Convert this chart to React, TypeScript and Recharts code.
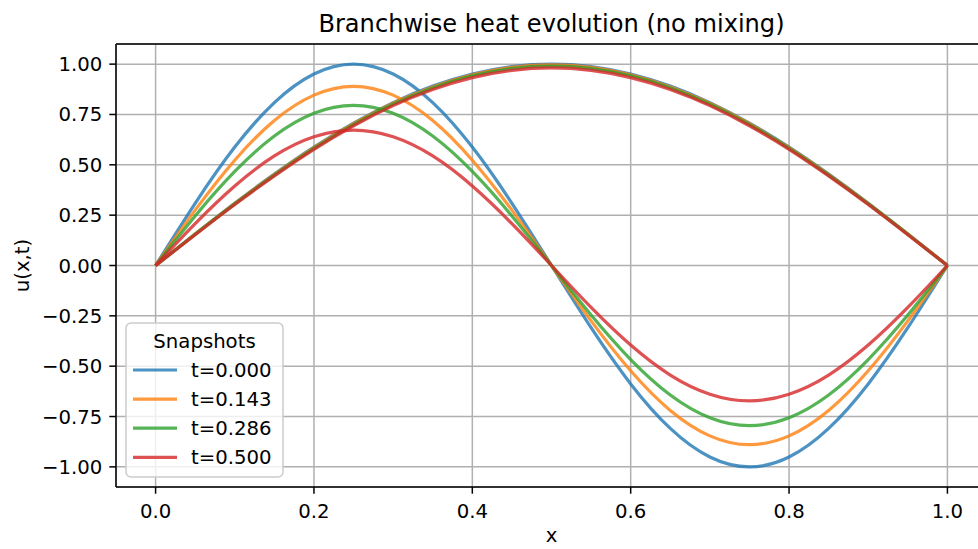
import { LineChart, Line, XAxis, YAxis, CartesianGrid, ReferenceLine } from "recharts";

// sample positions along the branch (x)
const xs = [
  0, 0.05, 0.1, 0.15, 0.2, 0.25, 0.3, 0.35, 0.4, 0.45, 0.5,
  0.55, 0.6, 0.65, 0.7, 0.75, 0.8, 0.85, 0.9, 0.95, 1,
];

// fast branch (two humps), one list per snapshot
const fast0 = [0, 0.309, 0.588, 0.809, 0.951, 1.0, 0.951, 0.809, 0.588, 0.309, 0, -0.309, -0.588, -0.809, -0.951, -1.0, -0.951, -0.809, -0.588, -0.309, 0];
const fast1 = [0, 0.275, 0.523, 0.72, 0.846, 0.89, 0.846, 0.72, 0.523, 0.275, 0, -0.275, -0.523, -0.72, -0.846, -0.89, -0.846, -0.72, -0.523, -0.275, 0];
const fast2 = [0, 0.246, 0.467, 0.643, 0.756, 0.795, 0.756, 0.643, 0.467, 0.246, 0, -0.246, -0.467, -0.643, -0.756, -0.795, -0.756, -0.643, -0.467, -0.246, 0];
const fast3 = [0, 0.208, 0.395, 0.544, 0.639, 0.672, 0.639, 0.544, 0.395, 0.208, 0, -0.208, -0.395, -0.544, -0.639, -0.672, -0.639, -0.544, -0.395, -0.208, 0];

// slow branch (single hump)
const slow0 = [0, 0.156, 0.309, 0.454, 0.588, 0.707, 0.809, 0.891, 0.951, 0.988, 1.0, 0.988, 0.951, 0.891, 0.809, 0.707, 0.588, 0.454, 0.309, 0.156, 0];
const slow1 = [0, 0.156, 0.308, 0.452, 0.585, 0.704, 0.806, 0.887, 0.947, 0.984, 0.996, 0.984, 0.947, 0.887, 0.806, 0.704, 0.585, 0.452, 0.308, 0.156, 0];
const slow2 = [0, 0.155, 0.306, 0.449, 0.582, 0.7, 0.801, 0.882, 0.942, 0.978, 0.99, 0.978, 0.942, 0.882, 0.801, 0.7, 0.582, 0.449, 0.306, 0.155, 0];
const slow3 = [0, 0.153, 0.303, 0.445, 0.577, 0.694, 0.794, 0.874, 0.933, 0.969, 0.981, 0.969, 0.933, 0.874, 0.794, 0.694, 0.577, 0.445, 0.303, 0.153, 0];

const snapshotLabels = ["t=0.000", "t=0.143", "t=0.286", "t=0.500"];
const colors = ["#1f77b4", "#ff7f0e", "#2ca02c", "#d62728"];

const xTicks = [0, 0.2, 0.4, 0.6, 0.8, 1.0];
const yTicks = [-1, -0.75, -0.5, -0.25, 0, 0.25, 0.5, 0.75, 1];

const fastSets = [fast0, fast1, fast2, fast3];
const slowSets = [slow0, slow1, slow2, slow3];

const data = xs.map((x, i) => {
  const row: Record<string, number> = { x };
  fastSets.forEach((s, k) => (row[`f${k}`] = s[i]));
  slowSets.forEach((s, k) => (row[`s${k}`] = s[i]));
  return row;
});

const FONT = "DejaVu Sans, sans-serif";
const minus = (s: string) => s.replace("-", "\u2212");

function XTick({ x, y, payload }: any) {
  return (
    <text x={x} y={y} dy={24} textAnchor="middle" fontSize={19.7} fontFamily={FONT} fill="#000">
      {minus(payload.value.toFixed(1))}
    </text>
  );
}

function YTick({ x, y, payload }: any) {
  return (
    <text x={x} y={y} dx={-7} dy={7} textAnchor="end" fontSize={19.7} fontFamily={FONT} fill="#000">
      {minus(payload.value.toFixed(2))}
    </text>
  );
}

export default function App() {
  return (
    <div style={{ position: "absolute", left: 0, top: 0, width: 978, height: 549, overflow: "hidden", background: "#fff" }}>
      <LineChart width={988} height={549} data={data} margin={{ top: 44, right: 1, left: 0, bottom: 12 }}>
        <CartesianGrid stroke="#b0b0b0" strokeWidth={1.5} />
        <XAxis
          dataKey="x"
          type="number"
          domain={[-0.05, 1.05]}
          ticks={xTicks}
          allowDataOverflow
          height={50}
          tickSize={6.7}
          tickMargin={0}
          tick={<XTick />}
          axisLine={{ stroke: "#000", strokeWidth: 1.5 }}
          tickLine={{ stroke: "#000", strokeWidth: 1.5 }}
        />
        <YAxis
          type="number"
          domain={[-1.1, 1.1]}
          ticks={yTicks}
          allowDataOverflow
          width={116}
          tickSize={6.7}
          tickMargin={0}
          tick={<YTick />}
          axisLine={{ stroke: "#000", strokeWidth: 1.5 }}
          tickLine={{ stroke: "#000", strokeWidth: 1.5 }}
        />
        <ReferenceLine y={1.1} stroke="#000" strokeWidth={1.5} />
        {colors.map((c, k) => [
          <Line
            key={`f${k}`}
            dataKey={`f${k}`}
            type="natural"
            stroke={c}
            strokeOpacity={0.8}
            strokeWidth={3.2}
            dot={false}
            activeDot={false}
            isAnimationActive={false}
          />,
          <Line
            key={`s${k}`}
            dataKey={`s${k}`}
            type="natural"
            stroke={c}
            strokeOpacity={0.8}
            strokeWidth={3.2}
            dot={false}
            activeDot={false}
            isAnimationActive={false}
          />,
        ])}
      </LineChart>

      <svg width={978} height={549} style={{ position: "absolute", left: 0, top: 0, pointerEvents: "none" }}>
        <text x={551.5} y={32.3} textAnchor="middle" fontSize={24.1} fontFamily={FONT} fill="#000">
          Branchwise heat evolution (no mixing)
        </text>
        <text x={551.5} y={542} textAnchor="middle" fontSize={19.7} fontFamily={FONT} fill="#000">
          x
        </text>
        <text
          transform="translate(29,265.5) rotate(-90)"
          textAnchor="middle"
          fontSize={19.7}
          fontFamily={FONT}
          fill="#000"
        >
          u(x,t)
        </text>

        <rect x={126} y={323} width={157} height={154} rx={5} fill="#fff" fillOpacity={0.8} stroke="#cccccc" strokeWidth={1.5} />
        <text x={204.5} y={347.5} textAnchor="middle" fontSize={19.7} fontFamily={FONT} fill="#000">
          Snapshots
        </text>
        {snapshotLabels.map((lab, k) => {
          const cy = 370 + k * 29.1;
          return (
            <g key={lab}>
              <line x1={133} x2={177} y1={cy} y2={cy} stroke={colors[k]} strokeOpacity={0.8} strokeWidth={3.2} />
              <text x={191} y={cy + 7.1} fontSize={19.7} fontFamily={FONT} fill="#000">
                {lab}
              </text>
            </g>
          );
        })}
      </svg>
    </div>
  );
}
